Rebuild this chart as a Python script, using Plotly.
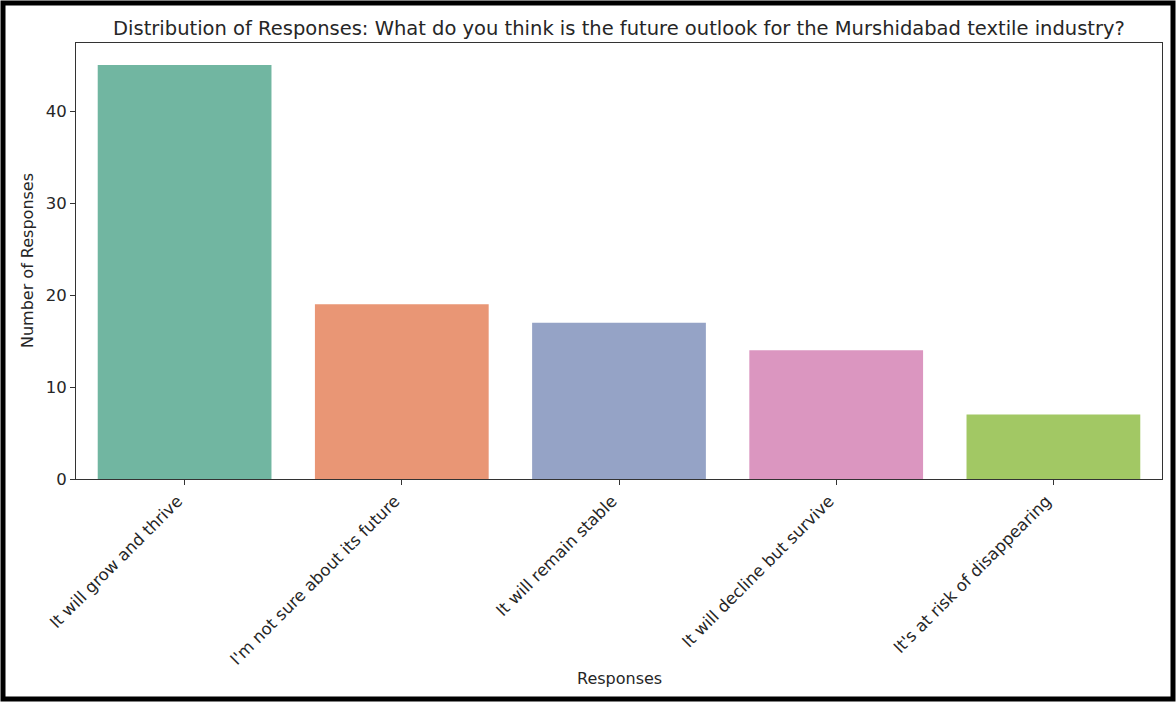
import plotly.graph_objects as go

categories = ["It will grow and thrive", "I'm not sure about its future", "It will remain stable",
              "It will decline but survive", "It's at risk of disappearing"]
counts = [45, 19, 17, 14, 7]
colors = ["#71b6a1", "#e99675", "#95a3c6", "#db96c0", "#a2c864"]
y_ticks = [0, 10, 20, 30, 40]

W, H = 1176, 702
L, R, T, B = 76, 14, 43, 223
pw, ph = W - L - R, H - T - B

fig = go.Figure(go.Bar(x=categories, y=counts, marker=dict(color=colors, line=dict(width=0)),
                       width=0.8))

font = "DejaVu Sans, Verdana, sans-serif"
fig.update_layout(
    width=W, height=H,
    margin=dict(l=L, r=R, t=T, b=B),
    paper_bgcolor="white", plot_bgcolor="white",
    showlegend=False,
    font=dict(family=font, size=16, color="#262626"),
    title=dict(text="Distribution of Responses: What do you think is the future outlook for the Murshidabad textile industry?",
               x=0.5, xref="paper", y=1 - 28 / H, yanchor="middle", xanchor="center",
               font=dict(family=font, size=19.5, color="#262626")),
    xaxis=dict(range=[-0.5, 4.5], tickangle=-45, showline=True, mirror=True, linecolor="#333333",
               linewidth=1, ticks="outside", ticklen=5, tickcolor="#333333", showgrid=False,
               tickfont=dict(size=16.5), ticklabelshift=-7),
    yaxis=dict(range=[0, 47.4], tickvals=y_ticks, showline=True, mirror=True, linecolor="#333333",
               linewidth=1, ticks="outside", ticklen=5, tickcolor="#333333", showgrid=False,
               zeroline=False, tickfont=dict(size=16.5)),
    annotations=[
        dict(text="Number of Responses", xref="paper", yref="paper", x=(27 - L) / pw, y=0.5,
             textangle=-90, showarrow=False, font=dict(size=16), xanchor="center", yanchor="middle"),
        dict(text="Responses", xref="paper", yref="paper", x=0.5, y=(479 - 678) / ph,
             showarrow=False, font=dict(size=16), xanchor="center", yanchor="middle"),
    ],
    shapes=[dict(type="rect", xref="paper", yref="paper",
                 x0=(-L + 3) / pw, x1=(W - L - 3) / pw,
                 y0=(479 - (H - 3)) / ph, y1=(479 - 3) / ph,
                 line=dict(color="black", width=5), fillcolor="rgba(0,0,0,0)")],
)

fig.write_html("out.html", config={"displayModeBar": False},
               post_script="document.body.style.margin='0px';")
